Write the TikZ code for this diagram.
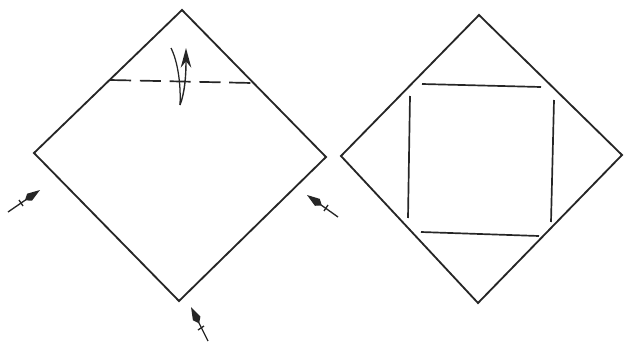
\documentclass[tikz,border=0pt]{standalone}
\usepackage{xcolor}
\usetikzlibrary{arrows.meta}
\tikzset{
  sheet/.style={line width=1.3pt,black!85},
  crease/.style={line width=1.2pt,black!85},
  foldarrow/.style={line width=0.95pt,black!85,-{Kite[length=13pt,width=6pt,inset=4pt]}},
}

\begin{document}
\begin{tikzpicture}[x=0.025cm,y=-0.025cm]
\useasboundingbox (0,0) rectangle (624,342);

% left sheet
\draw[sheet] (182,10) -- (326,157) -- (179,301) -- (34,153) -- cycle;

% fold line and turn arrow
\draw[crease,dash pattern=on 15pt off 6.2pt] (110,80) -- (252,83);
\draw[line width=0.9pt,black!85] (171,48) .. controls (178,62) and (181,85) .. (180,105);
\draw[foldarrow,line width=1pt,-{Stealth[length=14pt,width=7.5pt]}] (180,105) .. controls (185,92) and (186,75) .. (186,48);

% push arrows with a tick on the tail
\foreach \xa/\ya/\xb/\yb/\xc/\yc/\dx/\dy in {8/212/40/190/21/203/2/3,338/217/307/195/326/208/2/-3,208/341/191/307/201/328/3/-2} {
\draw[foldarrow] (\xa,\ya) -- (\xb,\yb);
\draw[line width=0.95pt,black!85] (\xc-\dx,\yc-\dy) -- (\xc+\dx,\yc+\dy);
}

% right sheet
\draw[sheet] (479,15) -- (622,155) -- (478,303) -- (341,156) -- cycle;

% inner square
\foreach \xa/\ya/\xb/\yb in {422/84/541/87,554/100/551/222,539/236/421/232,408/218/410/96} {
\draw[crease] (\xa,\ya) -- (\xb,\yb);
}

\end{tikzpicture}
\end{document}
